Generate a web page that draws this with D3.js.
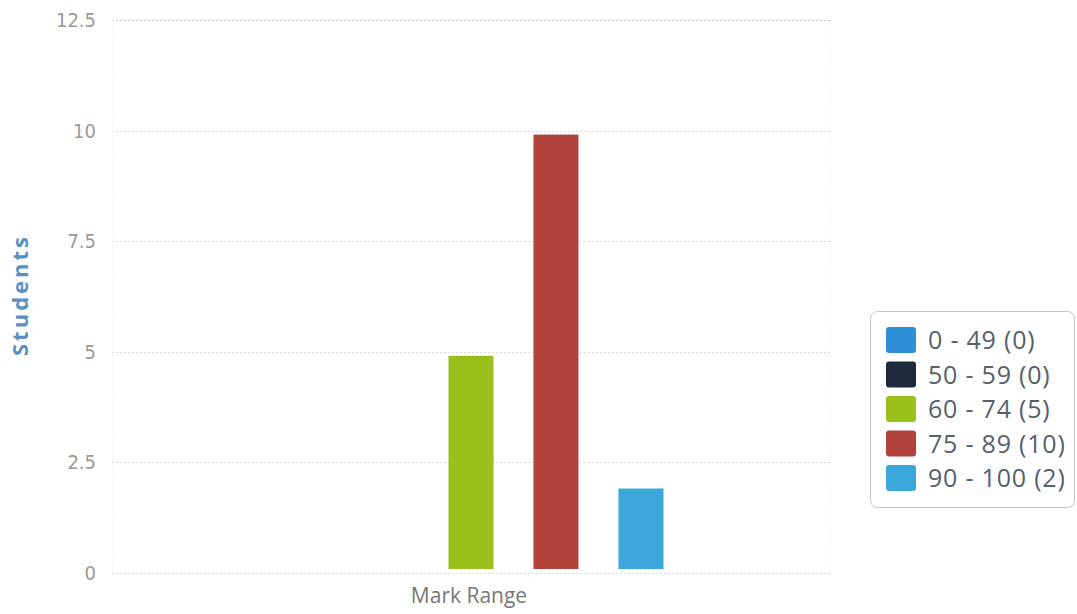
<!DOCTYPE html>
<html>
<head>
<meta charset="utf-8">
<script src="https://cdn.jsdelivr.net/npm/d3@7"></script>
<style>
  html, body { margin: 0; padding: 0; background: #fff; }
  svg { display: block; }
</style>
</head>
<body>
<svg id="chart" width="1077" height="614"></svg>
<script>
// ---- data ----
const categories = ["Mark Range"];
const seriesNames = ["0 - 49", "50 - 59", "60 - 74", "75 - 89", "90 - 100"];
const seriesValues = [0, 0, 5, 10, 2];
const seriesColors = ["#2f8fd6", "#1d2a3b", "#9cc01b", "#b2433b", "#3ba7db"];
const yTickValues = [0, 2.5, 5, 7.5, 10, 12.5];
const yTickLabels = ["0", "2.5", "5", "7.5", "10", "12.5"];
const yTitle = "Students";

(function () {
const svg = d3.select("#chart");
const pLeft = 112, pRight = 830, pTop = 20, pBottom = 573;

const y = d3.scaleLinear().domain([0, 12.5]).range([pBottom, pTop]);
const x0 = d3.scaleBand().domain(categories).range([pLeft, pRight]).paddingInner(0).paddingOuter(0.345);
const x1 = d3.scaleBand().domain(seriesNames).range([0, x0.bandwidth()]).paddingInner(0.47).paddingOuter(0.235);

// gridlines
const grid = svg.append("g");
yTickValues.forEach((v, i) => {
  grid.append("line")
    .attr("x1", pLeft).attr("x2", pRight)
    .attr("y1", Math.round(y(v)) + 0.5).attr("y2", Math.round(y(v)) + 0.5)
    .attr("stroke", i === yTickValues.length - 1 ? "#b9c3d0" : "#d9d9d9")
    .attr("stroke-width", 1)
    .attr("stroke-dasharray", "2,2");
});
[pLeft, pRight].forEach(xv => {
  grid.append("line").attr("x1", xv + 0.5).attr("x2", xv + 0.5)
    .attr("y1", pTop).attr("y2", pBottom)
    .attr("stroke", "#f2f2f2").attr("stroke-dasharray", "2,3");
});

// y axis labels
const yAxis = d3.axisLeft(y).tickValues(yTickValues).tickFormat((d, i) => yTickLabels[i]).tickSize(0).tickPadding(0);
const yg = svg.append("g").attr("transform", `translate(96,0)`).call(yAxis);
yg.select(".domain").remove();
yg.selectAll("text")
  .attr("font-family", "'DejaVu Sans Condensed', 'Liberation Sans Narrow', sans-serif")
  .attr("font-stretch", "condensed")
  .attr("font-size", 20)
  .attr("font-weight", 200)
  .attr("fill", "#999999");

// y title
svg.append("text")
  .attr("transform", `translate(28,295) rotate(-90)`)
  .attr("text-anchor", "middle")
  .attr("font-family", "'Open Sans', 'Noto Sans', sans-serif")
  .attr("font-weight", "bold")
  .attr("font-size", 22)
  .attr("letter-spacing", 3)
  .attr("fill", "#5a90c2")
  .text(yTitle);

// bars
const inset = 4;
const bars = svg.append("g");
categories.forEach(cat => {
  seriesNames.forEach((s, i) => {
    const v = seriesValues[i];
    if (v <= 0) return;
    bars.append("rect")
      .attr("x", x0(cat) + x1(s))
      .attr("width", x1.bandwidth())
      .attr("y", y(v) + inset)
      .attr("height", y(0) - y(v) - 2 * inset)
      .attr("fill", seriesColors[i]);
  });
});

// x axis category label
const xAxis = d3.axisBottom(x0).tickSize(0).tickPadding(0);
const xg = svg.append("g").attr("transform", `translate(0,588)`).call(xAxis);
xg.select(".domain").remove();
xg.selectAll("text")
  .attr("font-family", "'Open Sans', 'Noto Sans', sans-serif")
  .attr("font-size", 21)
  .attr("fill", "#777777")
  .attr("dy", "0.7em")
  .attr("dx", -2);

// legend
const lg = svg.append("g");
lg.append("rect")
  .attr("x", 870.5).attr("y", 311.5).attr("width", 204).attr("height", 196)
  .attr("rx", 7).attr("ry", 7)
  .attr("fill", "#fff").attr("stroke", "#c4c4c4").attr("stroke-width", 1);
seriesNames.forEach((s, i) => {
  const yy = 327 + i * 34.5;
  lg.append("rect")
    .attr("x", 886).attr("y", yy).attr("width", 30).attr("height", 26)
    .attr("rx", 3).attr("ry", 3)
    .attr("fill", seriesColors[i]);
  lg.append("text")
    .attr("x", 928).attr("y", yy + 13)
    .attr("dy", "0.36em")
    .attr("font-family", "'Open Sans', 'Noto Sans', sans-serif")
    .attr("font-size", 25)
    .attr("letter-spacing", 0.8)
    .attr("fill", "#56606c")
    .text(`${s} (${seriesValues[i]})`);
});
})();
</script>
</body>
</html>
